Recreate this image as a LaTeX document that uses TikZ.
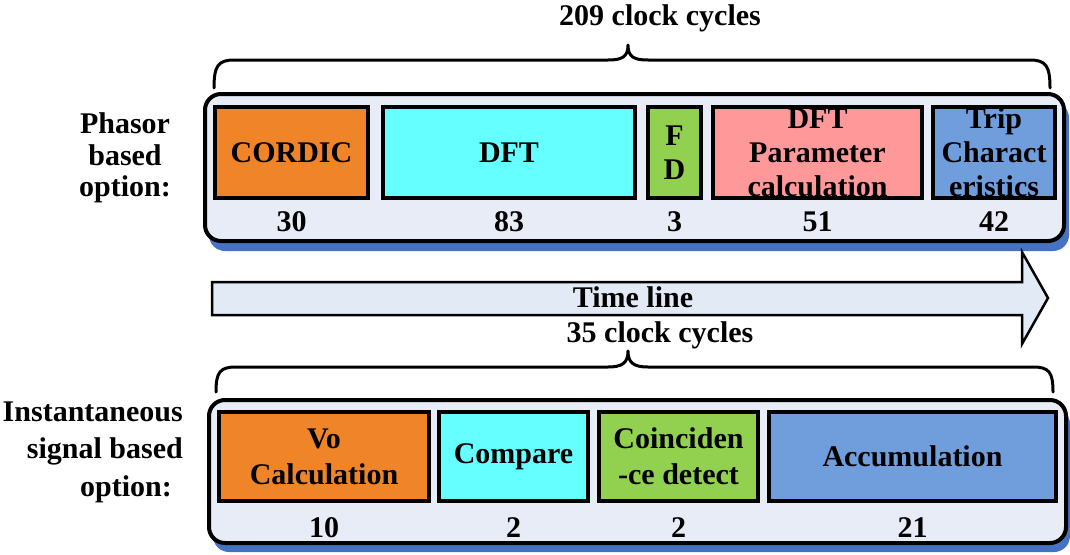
\documentclass[tikz,border=0pt]{standalone}
\usepackage{fontspec}
\setmainfont{Liberation Serif}
\definecolor{cOrange}{RGB}{240,132,40}
\definecolor{cCyan}{RGB}{102,255,255}
\definecolor{cGreen}{RGB}{146,208,80}
\definecolor{cPink}{RGB}{255,153,153}
\definecolor{cBlue}{RGB}{112,157,219}
\definecolor{panelFill}{RGB}{231,236,246}
\definecolor{panelShadow}{RGB}{70,114,196}
\definecolor{lineFill}{RGB}{226,234,246}
\tikzset{
  txt/.style={font=\fontsize{30}{34}\selectfont\bfseries, align=center, inner sep=0pt},
  blk/.style={draw=black, line width=4pt, inner sep=0pt},
  panel/.style={draw=black, line width=4pt, fill=panelFill, rounded corners=16pt},
  pshadow/.style={fill=panelShadow, rounded corners=16pt},
  brc/.style={draw=black, line width=3pt, line cap=round, line join=round},
  tline/.style={draw=black, line width=2.5pt, fill=lineFill, line join=miter},
}
\begin{document}
\begin{tikzpicture}[x=1pt,y=-1pt]
\useasboundingbox (0,0) rectangle (1070,554);

% ---------- phasor based option ----------
\node[txt] (t209) at (660,18) {209 clock cycles};
\draw[brc] (214,88) .. controls (214,66) and (218,60) .. (234,60) -- (608,60)
  .. controls (622,60) and (628,57) .. (628,45)
  .. controls (628,57) and (634,60) .. (648,60) -- (1030,60)
  .. controls (1046,60) and (1050,66) .. (1050,88);

\fill[pshadow] (209,102) rectangle (1069,251);
\draw[panel] (205,94) rectangle (1064,241);

\node[blk, fill=cOrange, minimum width=153pt, minimum height=91pt] (cordic) at (291.5,152.5) {};
\node[blk, fill=cCyan,   minimum width=252pt, minimum height=91pt] (dft)    at (509,152.5) {};
\node[blk, fill=cGreen,  minimum width=53pt,  minimum height=91pt] (fd)     at (674.5,152.5) {};
\node[blk, fill=cPink,   minimum width=209pt, minimum height=91pt] (param)  at (817.5,152.5) {};
\node[blk, fill=cBlue,   minimum width=122pt, minimum height=91pt] (trip)   at (994,152.5) {};

\node[txt] at (cordic) {CORDIC};
\node[txt] at (dft) {DFT};
\node[txt] at (fd) {F\\D};
\node[txt] at (param) {DFT\\Parameter\\calculation};
\node[txt] at (trip) {Trip\\Charact\\eristics};

\node[txt] (n30) at (cordic |- 0,222) {30};
\node[txt] (n83) at (dft |- 0,222) {83};
\node[txt] (n3)  at (fd |- 0,222) {3};
\node[txt] (n51) at (param |- 0,222) {51};
\node[txt] (n42) at (trip |- 0,222) {42};

\node[txt, font=\fontsize{30}{31.5}\selectfont\bfseries] (phasor) at (125,158) {Phasor\\based\\option:};

% ---------- time line ----------
\draw[tline] (212,282) -- (1022,282) -- (1022,252) -- (1048,298) -- (1022,344)
  -- (1022,315) -- (212,315) -- cycle;
\node[txt] (timeline) at (633,297) {Time line};

% ---------- instantaneous signal based option ----------
\node[txt] (t35) at (660,335) {35 clock cycles};
\draw[brc] (216,392) .. controls (216,372) and (220,367) .. (236,367) -- (608,367)
  .. controls (622,367) and (628,363) .. (628,351)
  .. controls (628,363) and (634,367) .. (648,367) -- (1033,367)
  .. controls (1049,367) and (1053,372) .. (1053,392);

\fill[pshadow] (213,408) rectangle (1070,552);
\draw[panel] (209,400) rectangle (1066,543);

\node[blk, fill=cOrange, minimum width=210pt, minimum height=89pt] (vo)   at (324,456.5) {};
\node[blk, fill=cCyan,   minimum width=149pt, minimum height=89pt] (cmp)  at (513.5,456.5) {};
\node[blk, fill=cGreen,  minimum width=159pt, minimum height=89pt] (coin) at (678.5,456.5) {};
\node[blk, fill=cBlue,   minimum width=287pt, minimum height=89pt] (acc)  at (912.5,456.5) {};

\node[txt, font=\fontsize{30}{36}\selectfont\bfseries] at (vo) {Vo\\Calculation};
\node[txt] at (cmp) {Compare};
\node[txt, font=\fontsize{30}{36}\selectfont\bfseries] at (coin) {Coinciden\\-ce detect};
\node[txt] at (acc) {Accumulation};

\node[txt] (n10) at (vo |- 0,528) {10};
\node[txt] (n2a) at (cmp |- 0,528) {2};
\node[txt] (n2b) at (coin |- 0,528) {2};
\node[txt] (n21) at (acc |- 0,528) {21};

\node[txt, font=\fontsize{30}{37.5}\selectfont\bfseries, align=right, anchor=east] (inst) at (183,452)
  {Instantaneous\\signal based\\option:\hspace*{11pt}};
\end{tikzpicture}
\end{document}
